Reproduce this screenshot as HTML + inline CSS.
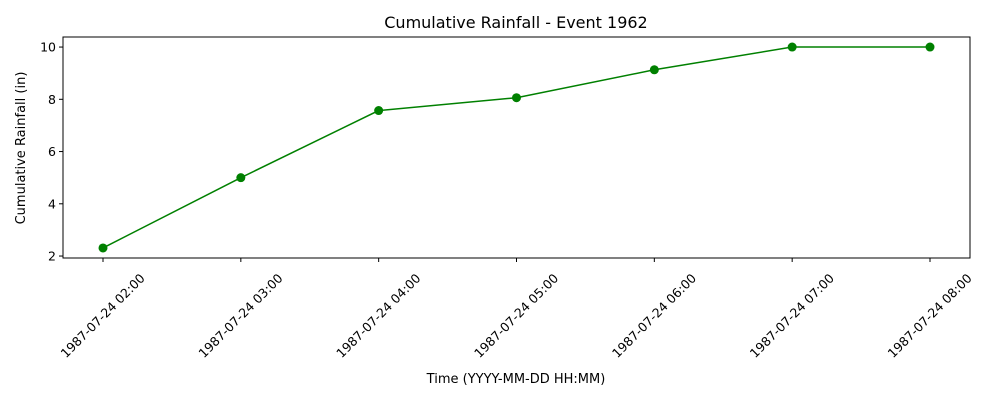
<!DOCTYPE html>
<html><head><meta charset="utf-8"><style>
body{margin:0;background:#fff;font-family:"Liberation Sans","DejaVu Sans",sans-serif}
svg text{font-family:"DejaVu Sans","Liberation Sans",sans-serif}
</style></head><body>
<svg id="chart" width="1000" height="400">
<text x="516" y="28" font-size="16" text-anchor="middle">Cumulative Rainfall - Event 1962</text>
<rect x="63" y="37" width="907" height="221" fill="none" stroke="#000" stroke-width="1"/>
<g id="yaxis"></g>
<g id="xaxis"></g>
<g id="series"></g>
<text transform="translate(25,148) rotate(-90)" font-size="13" text-anchor="middle">Cumulative Rainfall (in)</text>
<text x="516" y="383" font-size="13" text-anchor="middle">Time (YYYY-MM-DD HH:MM)</text>
</svg>
<script>
const categories=["1987-07-24 02:00","1987-07-24 03:00","1987-07-24 04:00","1987-07-24 05:00","1987-07-24 06:00","1987-07-24 07:00","1987-07-24 08:00"];
const values=[2.31,5.0,7.57,8.06,9.13,10.0,10.0];
const yTicks=[2,4,6,8,10];
const NS="http://www.w3.org/2000/svg";
const L=63,R=970,T=37,B=258;
const ymin=1.925,ymax=10.385;
const xs=i=>103+i*(930-103)/(categories.length-1);
const ys=v=>B-(v-ymin)/(ymax-ymin)*(B-T);
function mk(tag,attrs,parent){const e=document.createElementNS(NS,tag);for(const k in attrs)e.setAttribute(k,attrs[k]);parent.appendChild(e);return e;}
const ya=document.getElementById('yaxis'),xa=document.getElementById('xaxis'),sg=document.getElementById('series');
yTicks.forEach(t=>{const y=ys(t);
const l=mk('line',{x1:L-4,x2:L,y1:y,y2:y,stroke:'#000'},ya);


const tx=mk('text',{x:L-7,y:y+4.5,'font-size':12.5,'text-anchor':'end'},ya);tx.textContent=t;

});
categories.forEach((c,i)=>{const x=xs(i);
const l=mk('line',{x1:x,x2:x,y1:B,y2:B+4,stroke:'#000'},xa);


const tx=mk('text',{transform:`translate(${x},${B+58}) rotate(-45)`,'font-size':12.5,'text-anchor':'middle',dy:4},xa);tx.textContent=c;

});
const pl=mk('polyline',{points:values.map((v,i)=>xs(i)+','+ys(v)).join(' '),fill:'none',stroke:'#008000','stroke-width':1.5},sg);


values.forEach((v,i)=>{const c=mk('circle',{cx:xs(i),cy:ys(v),r:4.5,fill:'#008000'},sg);

});
</script>
</body></html>
